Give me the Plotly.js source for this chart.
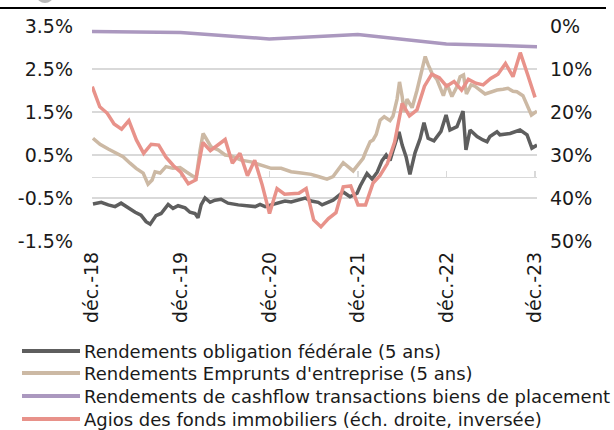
<!DOCTYPE html>
<html><head><meta charset="utf-8">
<script src="https://cdn.plot.ly/plotly-3.0.1.min.js"></script>
<style>html,body{margin:0;padding:0;background:#fff}#chart{width:614px;height:430px}</style>
</head><body><div id="chart"></div>
<script>
// ---- Data ----
const seriesNames = [
  "Rendements obligation fédérale (5 ans)",
  "Rendements Emprunts d'entreprise (5 ans)",
  "Rendements de cashflow transactions biens de placement",
  "Agios des fonds immobiliers (éch. droite, inversée)"
];

// Federal bond yield (5y), % — dates as decimal years
const federalYears = [2018.926,2019.017,2019.096,2019.175,2019.242,2019.321,2019.400,2019.468,2019.525,2019.570,2019.604,2019.637,2019.694,2019.773,2019.829,2019.886,2019.965,2020.021,2020.078,2020.111,2020.145,2020.190,2020.247,2020.303,2020.371,2020.450,2020.563,2020.676,2020.755,2020.811,2020.868,2020.935,2021.014,2021.093,2021.161,2021.240,2021.319,2021.387,2021.466,2021.511,2021.635,2021.748,2021.827,2021.906,2021.940,2022.019,2022.075,2022.132,2022.188,2022.233,2022.279,2022.312,2022.380,2022.414,2022.459,2022.504,2022.561,2022.617,2022.662,2022.707,2022.775,2022.854,2022.911,2022.956,2023.035,2023.102,2023.136,2023.182,2023.261,2023.328,2023.373,2023.407,2023.486,2023.520,2023.633,2023.746,2023.802,2023.825,2023.881,2023.938];
const federalYield = [-0.64,-0.60,-0.66,-0.70,-0.62,-0.73,-0.83,-0.90,-1.05,-1.11,-1.01,-0.91,-0.86,-0.65,-0.74,-0.68,-0.73,-0.83,-0.86,-0.96,-0.66,-0.50,-0.60,-0.55,-0.53,-0.62,-0.66,-0.68,-0.70,-0.65,-0.70,-0.66,-0.62,-0.57,-0.59,-0.55,-0.50,-0.57,-0.60,-0.66,-0.55,-0.36,-0.47,-0.39,-0.22,0.07,-0.06,0.10,0.37,0.50,0.37,0.60,1.04,0.73,0.46,0.05,0.55,0.88,1.25,0.89,0.83,1.05,1.43,1.08,1.16,1.52,0.62,1.08,0.93,0.85,0.81,0.93,1.04,0.97,1.00,1.08,1.00,0.97,0.66,0.73];

// Corporate bond yield (5y), %
const corporateYears = [2018.926,2019.005,2019.096,2019.186,2019.265,2019.344,2019.412,2019.491,2019.547,2019.592,2019.626,2019.683,2019.750,2019.829,2019.908,2019.976,2020.055,2020.089,2020.134,2020.168,2020.202,2020.258,2020.337,2020.416,2020.484,2020.597,2020.710,2020.823,2020.935,2021.048,2021.161,2021.274,2021.387,2021.466,2021.567,2021.635,2021.748,2021.861,2021.940,2021.974,2021.996,2022.030,2022.053,2022.087,2022.121,2022.166,2022.211,2022.279,2022.312,2022.358,2022.386,2022.414,2022.437,2022.470,2022.527,2022.583,2022.640,2022.674,2022.707,2022.753,2022.809,2022.854,2022.882,2022.922,2022.978,2023.035,2023.069,2023.108,2023.142,2023.193,2023.238,2023.294,2023.351,2023.430,2023.486,2023.554,2023.610,2023.667,2023.712,2023.780,2023.836,2023.876,2023.938];
const corporateYield = [0.89,0.75,0.64,0.54,0.46,0.31,0.19,0.08,-0.18,-0.08,0.11,0.08,0.23,0.19,0.21,0.11,0.00,-0.04,0.62,1.00,0.89,0.69,0.62,0.50,0.48,0.38,0.34,0.27,0.19,0.19,0.11,0.08,0.05,0.00,-0.06,0.00,0.32,0.13,0.34,0.42,0.54,0.69,0.81,0.85,0.98,1.31,1.39,1.30,1.40,1.80,2.20,1.86,1.50,1.80,1.60,2.00,2.48,2.79,2.60,2.40,2.25,2.05,1.88,2.15,1.86,2.09,2.32,2.36,1.92,2.13,2.10,2.01,1.92,1.97,2.01,2.03,2.05,1.98,1.97,1.88,1.60,1.43,1.52];

// Cash-flow yield of investment property transactions, % (annual)
const cashflowYears = [2018.915,2019.915,2020.915,2021.915,2022.915,2023.938];
const cashflowYield = [3.37,3.35,3.20,3.30,3.08,3.02];

// Real-estate fund premiums (agios), % — monthly from Dec 2018, right axis inverted
const agioStart = {year: 2018, month: 12};
const agioValues = [14.1,18.8,20.3,22.8,24.0,22.0,26.5,29.6,27.5,27.7,30.5,32.5,34.0,36.7,35.8,27.1,29.0,27.7,26.4,31.9,29.6,34.8,31.2,37.0,43.6,37.8,39.1,39.0,38.9,37.8,45.1,46.7,44.8,43.4,37.4,37.2,41.6,41.6,36.5,34.8,32.0,27.0,18.0,20.9,19.5,14.0,11.2,12.0,14.0,12.9,14.9,12.4,13.3,13.7,12.2,11.2,8.7,11.8,6.2,11.4,16.6];

// Axis ticks
const xTickDates = ['2018-12-01','2019-12-01','2020-12-01','2021-12-01','2022-12-01','2023-12-01'];
const xTickLabels = ['déc.-18','déc.-19','déc.-20','déc.-21','déc.-22','déc.-23'];
const leftTickVals = [-1.5,-0.5,0.5,1.5,2.5,3.5];
const leftTickText = ['-1.5%','-0.5%','0.5%','1.5%','2.5%','3.5%'];
const rightTickVals = [0,10,20,30,40,50];
const rightTickText = ['0%','10%','20%','30%','40%','50%'];

const colors = ['#5e5e5e','#ccb9a4','#ab98bf','#e8928a'];

// ---- helpers ----
function decYearToISO(t){
  const y = Math.floor(t);
  const s = Date.UTC(y,0,1), e = Date.UTC(y+1,0,1);
  return new Date(s + (t-y)*(e-s)).toISOString().slice(0,10);
}
const agioDates = agioValues.map((_,i)=>{
  const d = new Date(Date.UTC(agioStart.year, agioStart.month-1+i, 1));
  return d.toISOString().slice(0,10);
});

const FONT = 'DejaVu Sans, sans-serif';
const TXT = '#1a1a1a';

const traces = [
  {x: federalYears.map(decYearToISO), y: federalYield, name: seriesNames[0], mode:'lines',
   line:{color:colors[0], width:3.5}, xaxis:'x', yaxis:'y'},
  {x: corporateYears.map(decYearToISO), y: corporateYield, name: seriesNames[1], mode:'lines',
   line:{color:colors[1], width:3.5}, xaxis:'x', yaxis:'y'},
  {x: cashflowYears.map(decYearToISO), y: cashflowYield, name: seriesNames[2], mode:'lines',
   line:{color:colors[2], width:3.5}, xaxis:'x2', yaxis:'y'},
  {x: agioDates, y: agioValues, name: seriesNames[3], mode:'lines',
   line:{color:colors[3], width:3.5}, xaxis:'x', yaxis:'y2'}
];

// plot area in pixels: x 92..537, y 26..241
const L=92, R=537, T=26, B=241;
const px = p => (p-L)/(R-L);
const py = p => (B-p)/(B-T);

const xRange = [decYearToISO(2018.915), decYearToISO(2023.938)];

const shapes = [
  {type:'line', xref:'paper', yref:'paper', x0:px(0), x1:px(606), y0:py(8), y1:py(8), line:{color:'#000', width:2}},
  {type:'circle', xref:'paper', yref:'paper', x0:px(37), x1:px(53), y0:py(-10), y1:py(3), fillcolor:'#b8b8b8', line:{width:0}}
];
const annotations = [];
const rowsY = [351, 373, 396, 419];
seriesNames.forEach((n,i)=>{
  shapes.push({type:'line', xref:'paper', yref:'paper', x0:px(22), x1:px(80), y0:py(rowsY[i]), y1:py(rowsY[i]),
    line:{color:colors[i], width:4}});
  annotations.push({xref:'paper', yref:'paper', x:px(82), y:py(rowsY[i]), xanchor:'left', yanchor:'middle',
    text:n, showarrow:false, font:{family:FONT, size:18, color:TXT}});
});

const layout = {
  width:614, height:430,
  margin:{l:L, r:614-R, t:T, b:430-B, pad:0},
  paper_bgcolor:'#fff', plot_bgcolor:'#fff',
  showlegend:false,
  font:{family:FONT, color:TXT},
  xaxis:{type:'date', range:xRange, tickmode:'array', tickvals:xTickDates, ticktext:xTickLabels,
    tickangle:-90, ticks:'', showgrid:false, zeroline:false, showline:false,
    tickfont:{family:FONT, size:19, color:TXT}, ticklabelstandoff:6, fixedrange:true},
  xaxis2:{type:'date', range:xRange, overlaying:'x', anchor:'free', position:0.3, side:'bottom',
    tickmode:'array', tickvals:xTickDates, showticklabels:false, ticks:'inside', ticklen:6, tickwidth:1.5,
    tickcolor:'#d9d9d9', showline:true, linecolor:'#d9d9d9', linewidth:1.5, showgrid:false, zeroline:false,
    layer:'below traces'},
  yaxis:{range:[-1.5,3.5], tickmode:'array', tickvals:leftTickVals, ticktext:leftTickText,
    showgrid:true, gridcolor:'#d9d9d9', gridwidth:1.5, zeroline:false, showline:false, ticks:'',
    tickfont:{family:FONT, size:19, color:TXT}, ticklabelstandoff:18},
  yaxis2:{range:[50,0], overlaying:'y', side:'right', anchor:'x', tickmode:'array', tickvals:rightTickVals,
    ticktext:rightTickText, showgrid:false, zeroline:false, showline:false, ticks:'',
    tickfont:{family:FONT, size:19, color:TXT}, ticklabelstandoff:12},
  shapes:shapes,
  annotations:annotations
};

Plotly.newPlot('chart', traces, layout, {staticPlot:true, displayModeBar:false});
</script>
</body></html>
